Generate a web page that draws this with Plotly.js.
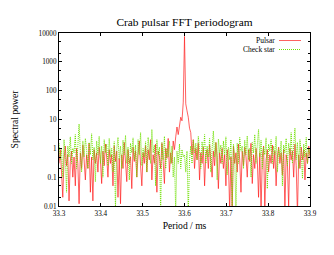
<!DOCTYPE html>
<html>
<head>
<meta charset="utf-8">
<script src="https://cdn.plot.ly/plotly-3.0.1.min.js"></script>
<style>html,body{margin:0;padding:0;background:#fff;}#chart{width:334px;height:255px;}</style>
</head>
<body>
<div id="chart"></div>
<script>
// Period grid (ms): 33.300 .. 33.900, uniform FFT bins
const periodStart = 33.300;
const periodStep = 0.003;
const nBins = 201;

// Spectral power of the Crab pulsar (one value per bin)
const pulsarPower = [
  0.3, 0.9, 0.15, 0.02, 0.4, 1.2, 0.25, 0.6, 0.015, 0.35,
  0.8, 0.1, 0.5, 0.05, 1.0, 0.3, 0.012, 0.7, 0.2, 1.3,
  0.4, 0.08, 0.6, 0.2, 1.5, 0.03, 0.5, 0.015, 0.9, 0.3,
  0.7, 0.15, 1.1, 0.4, 0.06, 0.8, 0.25, 1.4, 0.5, 0.1,
  0.9, 0.3, 0.6, 0.05, 1.2, 0.35, 0.8, 0.02, 0.45, 0.012,
  0.6, 0.2, 1.6, 0.4, 0.07, 0.9, 0.3, 0.5, 0.04, 1.1,
  0.35, 0.8, 0.1, 0.6, 1.8, 0.25, 0.05, 0.7, 0.3, 1.2,
  0.15, 0.9, 0.4, 2.0, 0.08, 0.6, 0.3, 1.4, 0.03, 0.8,
  0.5, 0.2, 1.5, 0.35, 0.06, 1.0, 0.45, 2.2, 0.15, 0.7,
  0.3, 1.8, 0.9, 2.5, 5.5, 3.0, 8, 12, 9, 40,
  7600, 35, 20, 12, 5, 3.5, 0.6, 2.0, 0.2, 1.0,
  0.4, 1.5, 0.08, 0.7, 0.3, 1.1, 0.05, 0.6, 0.9, 0.2,
  1.3, 0.4, 0.1, 0.8, 0.25, 1.6, 0.5, 0.04, 0.7, 0.3,
  1.0, 0.2, 0.6, 0.05, 0.9, 0.35, 0.007, 0.5, 0.008, 1.2,
  0.3, 0.7, 0.15, 1.4, 0.4, 0.03, 0.8, 0.25, 1.1, 0.5,
  0.1, 0.9, 0.35, 1.5, 0.06, 0.6, 0.2, 1.0, 0.4, 0.02,
  0.7, 0.006, 0.5, 1.2, 0.008, 0.4, 0.9, 0.15, 0.6, 0.3,
  1.3, 0.2, 0.8, 0.05, 0.5, 1.1, 0.3, 0.7, 0.12, 0.9,
  0.007, 0.6, 0.3, 0.009, 1.0, 0.4, 0.8, 0.1, 1.4, 0.25,
  0.005, 0.6, 0.2, 1.1, 0.4, 0.9, 0.08, 0.7, 0.3, 1.2, 0.5
];

// Spectral power of the check star
const checkStarPower = [
  1.5, 0.4, 0.9, 0.1, 2.0, 0.6, 0.03, 1.2, 0.5, 2.5,
  0.3, 1.0, 0.7, 3.0, 0.2, 1.4, 7.0, 0.8, 0.15, 1.8,
  0.5, 2.2, 0.9, 0.2, 1.6, 0.6, 3.2, 0.4, 1.1, 0.07,
  1.8, 0.6, 2.6, 0.3, 1.2, 0.1, 2.0, 0.7, 1.4, 0.25,
  2.2, 0.5, 1.0, 0.15, 1.7, 0.008, 0.9, 2.4, 0.4, 1.2,
  0.2, 1.9, 0.6, 2.8, 0.3, 1.1, 0.08, 1.5, 0.7, 2.3,
  0.4, 1.3, 0.1, 2.0, 0.6, 3.5, 0.25, 1.0, 0.5, 1.7,
  0.15, 2.4, 0.8, 0.3, 4.5, 0.7, 1.3, 0.05, 2.0, 0.6,
  1.1, 0.007, 1.6, 0.4, 2.6, 0.2, 1.0, 0.5, 1.8, 0.3,
  1.2, 0.1, 0.5, 0.006, 0.8, 0.3, 1.4, 0.2, 0.9, 0.5,
  0.6, 0.15, 0.8, 0.005, 0.4, 1.2, 0.3, 2.0, 0.7, 1.5,
  0.4, 2.6, 0.9, 0.2, 1.7, 0.6, 3.0, 0.3, 1.2, 0.5,
  2.2, 0.15, 1.0, 4.0, 0.5, 1.6, 0.08, 2.1, 0.7, 1.3,
  0.3, 1.8, 0.6, 2.5, 0.12, 1.1, 0.4, 2.0, 0.007, 1.4,
  0.5, 0.006, 1.5, 0.3, 2.4, 0.8, 1.2, 0.2, 1.9, 0.6,
  2.7, 0.4, 1.0, 0.1, 1.6, 0.7, 3.0, 0.3, 1.3, 4.5,
  0.5, 1.9, 0.2, 1.1, 0.6, 2.3, 0.04, 1.4, 0.8, 2.0,
  0.3, 1.2, 0.6, 2.6, 0.15, 1.0, 0.5, 1.8, 0.05, 1.3,
  0.7, 2.2, 0.25, 1.5, 0.6, 3.5, 0.3, 1.1, 5.0, 0.4,
  1.6, 0.2, 2.0, 0.7, 0.09, 1.4, 0.5, 2.4, 0.3, 1.0, 0.6
];

const seriesNames = ["Pulsar", "Check star"];
const xTickVals = [33.3, 33.4, 33.5, 33.6, 33.7, 33.8, 33.9];
const xTickText = ["33.3", "33.4", "33.5", "33.6", "33.7", "33.8", "33.9"];
const yTickVals = [0.01, 0.1, 1, 10, 100, 1000, 10000];
const yTickText = ["0.01", "0.1", "1", "10", "100", "1000", "10000"];
const yMinorVals = [0.02, 0.05, 0.2, 0.5, 2, 5, 20, 50, 200, 500, 2000, 5000];

const period = [];
for (let i = 0; i < nBins; i++) period.push(+(periodStart + i * periodStep).toFixed(3));

const FONT = "Liberation Serif, Times New Roman, serif";
const RED = "rgba(255,30,30,0.7)";
const GREEN = "rgb(110,225,0)";

const traces = [
  {x: period, y: pulsarPower, name: seriesNames[0], type: "scatter", mode: "lines",
   line: {color: RED, width: 1}},
  {x: period, y: checkStarPower, name: seriesNames[1], type: "scatter", mode: "lines",
   line: {color: GREEN, width: 1, dash: "1px,1px"}}
];

const axisCommon = {
  showline: true, linecolor: "#000", linewidth: 1, mirror: "ticks",
  ticks: "inside", ticklen: 3, tickcolor: "#000", tickwidth: 1,
  showgrid: false, zeroline: false,
  tickfont: {family: FONT, size: 7.2, color: "#000"}
};

const legY1 = 1 - (40.5 - 33) / 173;
const legY2 = 1 - (49.5 - 33) / 173;
const legTextX = (276 - 59) / 251;

const layout = {
  width: 334, height: 255,
  margin: {l: 59, r: 24, t: 33, b: 49, pad: 0},
  paper_bgcolor: "#fff", plot_bgcolor: "#fff",
  showlegend: false,
  font: {family: FONT, color: "#000"},
  title: {text: "Crab pulsar FFT periodogram", x: 0.5, xref: "paper", y: 1 - 22 / 255, yref: "container",
          yanchor: "middle", font: {family: FONT, size: 11.4, color: "#000"}},
  xaxis: Object.assign({}, axisCommon, {
    range: [33.3, 33.9], tickmode: "array", tickvals: xTickVals, ticktext: xTickText,
    title: {text: "Period / ms", font: {family: FONT, size: 9.6, color: "#000"}, standoff: 5}
  }),
  yaxis: Object.assign({}, axisCommon, {
    type: "log", range: [-2, 4], tickmode: "array", tickvals: yTickVals, ticktext: yTickText,
    minor: {tickmode: "array", tickvals: yMinorVals, ticks: "inside", ticklen: 2, tickcolor: "#000", showgrid: false},
    title: {text: "Spectral power", font: {family: FONT, size: 9.6, color: "#000"}, standoff: 18}
  }),
  annotations: [
    {xref: "paper", yref: "paper", x: legTextX, y: legY1, xanchor: "right", yanchor: "middle", borderpad: 0,
     text: seriesNames[0], showarrow: false, font: {family: FONT, size: 7.5, color: "#000"}},
    {xref: "paper", yref: "paper", x: legTextX, y: legY2, xanchor: "right", yanchor: "middle", borderpad: 0,
     text: seriesNames[1], showarrow: false, font: {family: FONT, size: 7.5, color: "#000"}}
  ],
  shapes: [
    {type: "line", xref: "paper", yref: "paper", x0: (279 - 59) / 251, x1: (301 - 59) / 251,
     y0: legY1, y1: legY1, line: {color: RED, width: 1}},
    {type: "line", xref: "paper", yref: "paper", x0: (279 - 59) / 251, x1: (301 - 59) / 251,
     y0: legY2, y1: legY2, line: {color: GREEN, width: 1, dash: "1px,1px"}}
  ]
};

Plotly.newPlot("chart", traces, layout, {staticPlot: true, displayModeBar: false});
</script>
</body>
</html>
